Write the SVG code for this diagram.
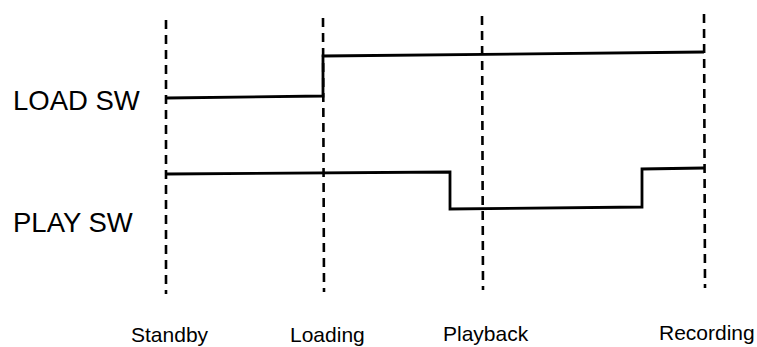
<svg xmlns="http://www.w3.org/2000/svg" width="757" height="347" viewBox="0 0 757 347">
<style>
.dash{stroke:#000;stroke-width:2.6;stroke-dasharray:9,6;fill:none}
.sig{stroke:#000;stroke-width:2.8;fill:none;stroke-linejoin:miter}
.lab{font-family:"Liberation Sans",Arial,sans-serif;font-size:27.5px;fill:#000}
.st{font-family:"Liberation Sans",Arial,sans-serif;font-size:21px;fill:#000}
</style>
<rect width="757" height="347" fill="#fff"/>
<g id="connectors">
<line class="dash" x1="166" y1="20" x2="166" y2="294"/>
<line class="dash" x1="323" y1="18" x2="324" y2="292"/>
<line class="dash" x1="482" y1="16" x2="483" y2="290"/>
<line class="dash" x1="704" y1="14" x2="705" y2="288"/>
</g>
<g id="load-sw">
<text class="lab" x="13" y="110">LOAD SW</text>
<polyline class="sig" points="167,98 323,96 323,56 704,52"/>
</g>
<g id="play-sw">
<text class="lab" x="13" y="232">PLAY SW</text>
<polyline class="sig" points="167,174 450,172 450,209 642,207 642,169 704,168"/>
</g>
<g id="standby"><text class="st" x="131" y="342">Standby</text></g>
<g id="loading"><text class="st" x="290" y="342">Loading</text></g>
<g id="playback"><text class="st" x="443" y="341">Playback</text></g>
<g id="recording"><text class="st" x="659" y="340">Recording</text></g>
</svg>
